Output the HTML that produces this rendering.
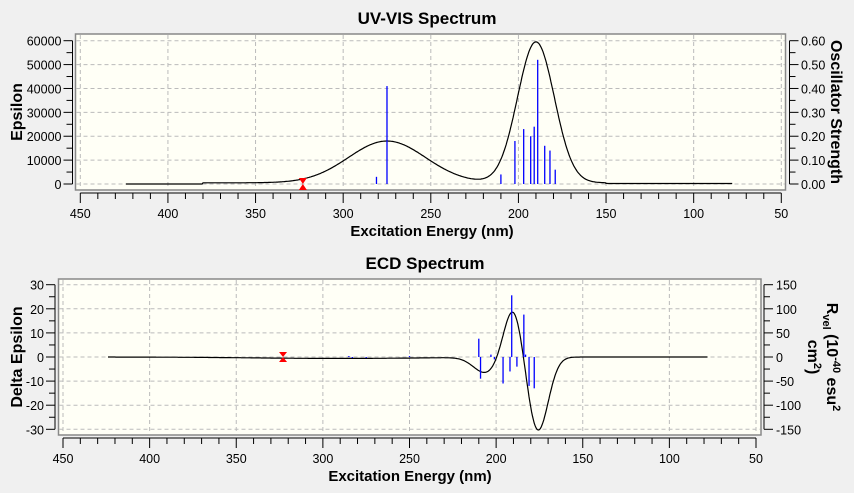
<!DOCTYPE html><html><head><style>
body{margin:0;background:#f0f0f0;font-family:"Liberation Sans",sans-serif}
svg text{font-family:"Liberation Sans",sans-serif}
</style></head><body>
<svg id="s" width="854" height="493" xmlns="http://www.w3.org/2000/svg" style="display:block"></svg>
<script>
const s=document.getElementById('s');let h='';
function T(x,y,t,o){h+=`<text x="${x}" y="${y}" style="${o||''}">${t}</text>`;}
function L(x1,y1,x2,y2,st){h+=`<line x1="${x1}" y1="${y1}" x2="${x2}" y2="${y2}" style="${st}"/>`;}
function panel(o){
 const {l,t,r,b,x0,kx,y0,ky,ymin,ymax,ystep,axB,axL,axR}=o;
 const X=n=>x0+(450-n)*kx, Y=v=>y0-v*ky;
 h+=`<rect x="${l}" y="${t}" width="${r-l}" height="${b-t}" fill="#fffff6" stroke="#888" stroke-width="1.5"/>`;
 for(let n=450;n>=50;n-=50){if(X(n)>l+2&&X(n)<r-2)L(X(n),t+1,X(n),b-1,'stroke:#bbb;stroke-dasharray:4,3');}
 for(let v=ymin;v<=ymax;v+=ystep){L(l+1,Y(v),r-1,Y(v),'stroke:#bbb;stroke-dasharray:4,3');}
 L(X(450),axB,X(50),axB,'stroke:#000');
 for(let n=450;n>=50;n-=10){let m=n%50==0;L(X(n),axB,X(n),axB+(m?10:6),'stroke:#000');}
 for(let n=450;n>=50;n-=50)T(X(n),axB+25,n,'font-size:12.5px;text-anchor:middle');
 L(axL,Y(ymax),axL,Y(ymin),'stroke:#000');
 for(let v=ymin;v<=ymax+1e-9;v+=ystep/2){let m=Math.abs(v/ystep-Math.round(v/ystep))<1e-6;L(axL-(m?9:6),Y(v),axL,Y(v),'stroke:#000');}
 for(let v=ymin;v<=ymax;v+=ystep)T(axL-11,Y(v)+5,v,'font-size:12.5px;text-anchor:end');
 L(axR,Y(ymax),axR,Y(ymin),'stroke:#000');
 return {X,Y};
}
let P=panel({l:75.5,t:34,r:785.5,b:190,x0:80.3,kx:1.7525,y0:184,ky:143.3/60000,ymin:0,ymax:60000,ystep:10000,axB:193,axL:72.5,axR:789.5});
for(let i=0;i<=12;i++){let v=i*5000,y=P.Y(v),m=i%2==0;L(789.5,y,789.5+(m?9:6),y,'stroke:#000');if(m)T(801,y+5,(i*0.05).toFixed(2),'font-size:12.5px');}
let d='';for(let n=424;n>=78;n-=0.5){let v=17500*Math.exp(-((n-275)**2)/(2*22*22))+59000*Math.exp(-((n-190)**2)/(2*10.5*10.5))+(n>380?0:(n>150?500:200));v=Math.max(v,0);d+=(d?'L':'M')+P.X(n).toFixed(1)+','+P.Y(v).toFixed(1);}
h+=`<path d="${d}" fill="none" stroke="#000" stroke-width="1.2"/>`;
[[281,.03],[275,.41],[210,.04],[202,.18],[197,.23],[193,.2],[191,.24],[189,.52],[185,.16],[182,.14],[179,.06]].forEach(([n,f])=>L(P.X(n),184,P.X(n),184-f*143.3/0.6,'stroke:#00f;stroke-width:1.3'));
h+=`<path d="M${P.X(323)-4},178 h8 l-4,6 l4,6 h-8 l4,-6z" fill="red"/>`;
T(427,24,'UV-VIS Spectrum','font-size:17px;font-weight:bold;text-anchor:middle');
T(432,236,'Excitation Energy (nm)','font-size:15px;font-weight:bold;text-anchor:middle');
h+=`<text transform="translate(22,112) rotate(-90)" style="font-size:16px;font-weight:bold;text-anchor:middle">Epsilon</text>`;
h+=`<text transform="translate(831,112) rotate(90)" style="font-size:16px;font-weight:bold;text-anchor:middle">Oscillator Strength</text>`;
let Q=panel({l:58.5,t:279,r:761,b:435,x0:63,kx:1.7325,y0:357,ky:72.3/30,ymin:-30,ymax:30,ystep:10,axB:438,axL:55,axR:764});
for(let v=-150;v<=150;v+=25){let y=357-v*72.3/150,m=v%50==0;L(764,y,764+(m?9:6),y,'stroke:#000');if(m)T(776,y+5,v,'font-size:12.5px');}
d='';for(let n=424;n>=78;n-=0.5){let v=-6.5*Math.exp(-((n-206)**2)/(2*7*7))+21*Math.exp(-((n-190)**2)/(2*5.5*5.5))-31*Math.exp(-((n-176)**2)/(2*6*6))-0.6*Math.exp(-((n-290)**2)/(2*50*50));d+=(d?'L':'M')+Q.X(n).toFixed(1)+','+Q.Y(v).toFixed(1);}
h+=`<path d="${d}" fill="none" stroke="#000" stroke-width="1.2"/>`;
const rk=72.3/150;
[[285,2],[283,-2],[275,-2],[250,2],[210,38],[209,-45],[203,5],[201,-5],[196,-55],[192,-30],[191,128],[188,-20],[184,88],[183,5],[181,-60],[178,-65]].forEach(([n,r])=>L(Q.X(n),357,Q.X(n),357-r*rk,'stroke:#00f;stroke-width:1.3'));
h+=`<path d="M${Q.X(323)-4},352 h8 l-4,5 l4,5 h-8 l4,-5z" fill="red"/>`;
T(425,269,'ECD Spectrum','font-size:17px;font-weight:bold;text-anchor:middle');
T(410,481,'Excitation Energy (nm)','font-size:15px;font-weight:bold;text-anchor:middle');
h+=`<text transform="translate(22,357) rotate(-90)" style="font-size:16px;font-weight:bold;text-anchor:middle">Delta Epsilon</text>`;
h+=`<g transform="translate(827,357) rotate(90)"><text x="0" y="0" style="font-size:16px;font-weight:bold;text-anchor:middle">R<tspan font-size="11" dy="4">vel</tspan><tspan dy="-4"> (10</tspan><tspan font-size="11" dy="-6">-40</tspan><tspan dy="6"> esu</tspan><tspan font-size="11" dy="-6">2</tspan></text><text x="0" y="19" style="font-size:16px;font-weight:bold;text-anchor:middle">cm<tspan font-size="11" dy="-6">2</tspan><tspan dy="6">)</tspan></text></g>`;
s.innerHTML=h;
</script></body></html>
